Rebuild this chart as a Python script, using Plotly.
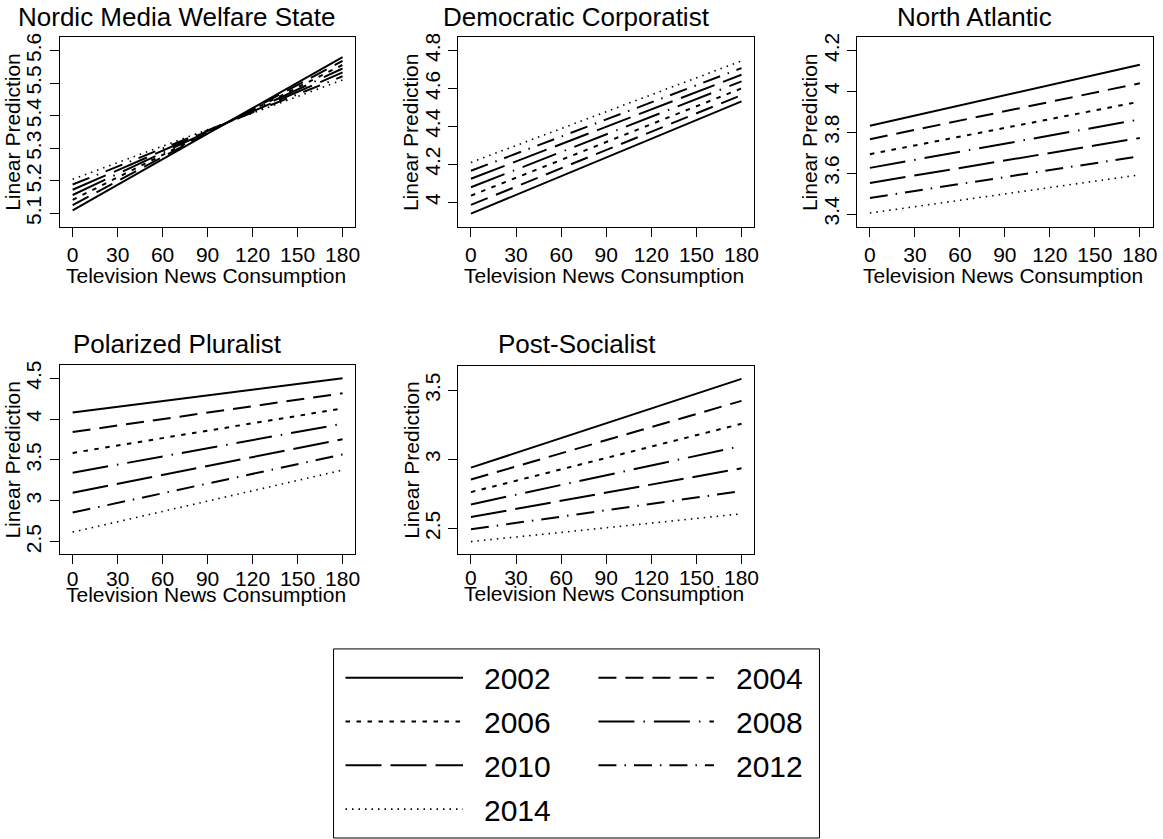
import plotly.graph_objects as go

# Predicted values at the two ends of the news-consumption range (0 and 180 minutes)
YEARS = ["2002", "2004", "2006", "2008", "2010", "2012", "2014"]
X_ENDS = [0, 180]

nordic_at0 = [5.110, 5.126, 5.142, 5.157, 5.173, 5.189, 5.205]
nordic_at180 = [5.580, 5.568, 5.556, 5.545, 5.533, 5.521, 5.510]

corporatist_at0 = [3.940, 3.986, 4.035, 4.079, 4.124, 4.166, 4.210]
corporatist_at180 = [4.532, 4.565, 4.600, 4.637, 4.672, 4.707, 4.745]

atlantic_at0 = [3.832, 3.766, 3.693, 3.626, 3.552, 3.479, 3.405]
atlantic_at180 = [4.130, 4.040, 3.950, 3.863, 3.772, 3.683, 3.592]

pluralist_at0 = [4.081, 3.842, 3.586, 3.343, 3.099, 2.856, 2.617]
pluralist_at180 = [4.500, 4.316, 4.130, 3.943, 3.753, 3.567, 3.376]

socialist_at0 = [2.940, 2.854, 2.763, 2.674, 2.583, 2.494, 2.405]
socialist_at180 = [3.582, 3.423, 3.257, 3.096, 2.935, 2.770, 2.606]

TITLES = ["Nordic Media Welfare State", "Democratic Corporatist", "North Atlantic",
          "Polarized Pluralist", "Post-Socialist"]
X_TICKS = [0, 30, 60, 90, 120, 150, 180]
Y_TICKS = [
    [5.1, 5.2, 5.3, 5.4, 5.5, 5.6],
    [4.0, 4.2, 4.4, 4.6, 4.8],
    [3.4, 3.6, 3.8, 4.0, 4.2],
    [2.5, 3.0, 3.5, 4.0, 4.5],
    [2.5, 3.0, 3.5],
]
Y_TICK_TEXT = [
    ["5.1", "5.2", "5.3", "5.4", "5.5", "5.6"],
    ["4", "4.2", "4.4", "4.6", "4.8"],
    ["3.4", "3.6", "3.8", "4", "4.2"],
    ["2.5", "3", "3.5", "4", "4.5"],
    ["2.5", "3", "3.5"],
]
Y_RANGES = [[5.059, 5.642], [3.870, 4.872], [3.337, 4.267], [2.345, 4.662], [2.318, 3.678]]
X_RANGE = [-8.6, 188.6]

PANELS = [
    (nordic_at0, nordic_at180),
    (corporatist_at0, corporatist_at180),
    (atlantic_at0, atlantic_at180),
    (pluralist_at0, pluralist_at180),
    (socialist_at0, socialist_at180),
]

# Line patterns per survey year
DASHES = ["solid", "18px,9px", "4.5px,6.5px", "36px,9px,1.5px,9px",
          "36px,9px", "18px,8px,1.5px,8px", "1.5px,5px"]
WIDTHS = [2, 2, 2, 2, 2, 2, 1.6]

W, H = 1163, 839
FONT = "Liberation Sans, Arial, sans-serif"

# Plot boxes in pixels: left, right, top, bottom
BOXES = [(60, 357, 33, 224), (460, 757.7, 33, 224), (860.7, 1157.7, 33, 224),
         (60, 357, 362.7, 553), (460, 757.7, 363.3, 552.3)]
TITLE_POS = [(177.5, 13), (579, 13), (979, 13), (178, 342), (579, 342)]


def fx(px):
    return px / W


def fy(py):
    return 1 - py / H


fig = go.Figure()
layout = dict(
    width=W, height=H, margin=dict(l=0, r=0, t=0, b=0),
    paper_bgcolor="white", plot_bgcolor="rgba(0,0,0,0)",
    font=dict(family=FONT, color="black"), showlegend=False,
)
annotations = []
shapes = []

for i, ((v0, v1), box) in enumerate(zip(PANELS, BOXES)):
    n = "" if i == 0 else str(i + 1)
    xref, yref = "x" + n, "y" + n
    for k, year in enumerate(YEARS):
        fig.add_trace(go.Scatter(
            x=X_ENDS, y=[v0[k], v1[k]], mode="lines", name=year,
            xaxis=xref, yaxis=yref,
            line=dict(color="black", width=WIDTHS[k], dash=DASHES[k]),
            hoverinfo="skip",
        ))
    left, right, top, bottom = box
    top_row = i < 3
    layout["xaxis" + n] = dict(
        domain=[fx(left), fx(right)], anchor=yref, range=X_RANGE,
        tickvals=X_TICKS, ticktext=[str(t) for t in X_TICKS],
        ticks="outside", ticklen=9, tickwidth=1, tickcolor="black",
        showline=True, linecolor="black", linewidth=1, mirror=True,
        showgrid=False, zeroline=False, tickfont=dict(size=21),
        ticklabelstandoff=0 if top_row else -4,
    )
    layout["yaxis" + n] = dict(
        domain=[fy(bottom), fy(top)], anchor=xref, range=Y_RANGES[i],
        tickvals=Y_TICKS[i], ticktext=Y_TICK_TEXT[i], tickangle=-90,
        ticks="outside", ticklen=9, tickwidth=1, tickcolor="black",
        showline=True, linecolor="black", linewidth=1, mirror=True,
        showgrid=False, zeroline=False, tickfont=dict(size=21),
    )
    tx, ty = TITLE_POS[i]
    annotations.append(dict(
        text=TITLES[i], x=fx(tx), y=fy(ty), xref="paper", yref="paper",
        xanchor="center", yanchor="middle", showarrow=False, font=dict(size=26),
    ))
    annotations.append(dict(
        text="Linear Prediction", textangle=-90, x=fx(left - 47),
        y=fy((top + bottom) / 2), xref="paper", yref="paper",
        xanchor="center", yanchor="middle", showarrow=False, font=dict(size=21),
    ))
    annotations.append(dict(
        text="Television News Consumption", x=fx((left + right) / 2 - 2),
        y=fy(bottom + (49 if top_row else 40)), xref="paper", yref="paper",
        xanchor="center", yanchor="middle", showarrow=False, font=dict(size=21),
    ))

# Legend: two columns of long line samples inside a framed box
LEG_BOX = (335, 823, 648, 838)
LEG_ROWS = [677, 721, 765, 809]
LEG_COLS = [(347, 465, 484), (601, 717, 737)]
layout["xaxis6"] = dict(domain=[fx(LEG_BOX[0]), fx(LEG_BOX[1])],
                        range=[LEG_BOX[0], LEG_BOX[1]], visible=False, anchor="y6")
layout["yaxis6"] = dict(domain=[fy(LEG_BOX[3]), fy(LEG_BOX[2])],
                        range=[LEG_BOX[3], LEG_BOX[2]], visible=False, anchor="x6")
for k, year in enumerate(YEARS):
    col = LEG_COLS[k % 2]
    row = LEG_ROWS[k // 2]
    fig.add_trace(go.Scatter(
        x=[col[0], col[1]], y=[row, row], mode="lines", xaxis="x6", yaxis="y6",
        line=dict(color="black", width=WIDTHS[k], dash=DASHES[k]), hoverinfo="skip",
    ))
    annotations.append(dict(
        text=year, x=fx(col[2]), y=fy(row + 1), xref="paper", yref="paper",
        xanchor="left", yanchor="middle", showarrow=False, font=dict(size=30),
    ))
shapes.append(dict(
    type="rect", xref="paper", yref="paper",
    x0=fx(LEG_BOX[0]), x1=fx(LEG_BOX[1]), y0=fy(LEG_BOX[3]), y1=fy(LEG_BOX[2]),
    line=dict(color="black", width=1), fillcolor="rgba(0,0,0,0)",
))

layout["annotations"] = annotations
layout["shapes"] = shapes
fig.update_layout(**layout)
fig.write_html("out.html")
